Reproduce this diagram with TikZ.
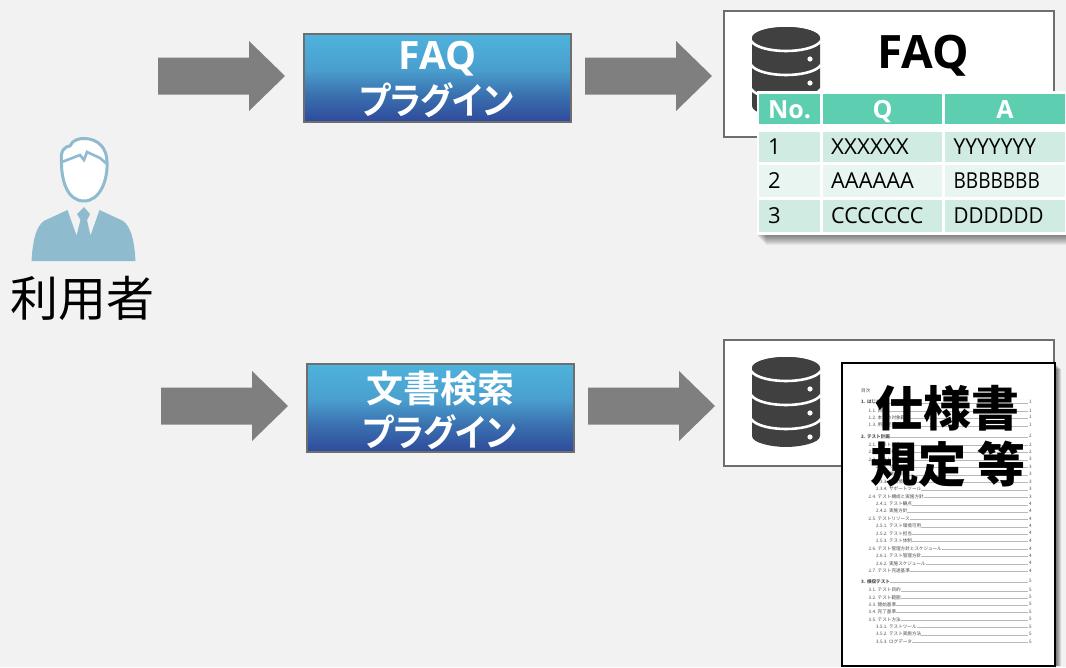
\documentclass[tikz,border=0pt]{standalone}
\usepackage{fontspec}
\setmainfont{Open Sans}
\newfontfamily\cjk{Noto Sans CJK JP}
\newfontfamily\cjkb[RawFeature=+palt]{Noto Sans CJK JP Bold}
\newfontfamily\cjkh{Noto Sans CJK JP Black}
\usetikzlibrary{calc}
\definecolor{bg}{HTML}{F2F2F2}
\definecolor{arrowgray}{HTML}{7F7F7F}
\definecolor{boxedge}{HTML}{6E6E6E}
\definecolor{dbdark}{HTML}{404040}
\definecolor{person}{HTML}{8FBBCE}
\definecolor{thead}{HTML}{5DCFB0}
\definecolor{rowa}{HTML}{D0EBE2}
\definecolor{rowb}{HTML}{E9F5F1}
\definecolor{gtop}{HTML}{4EB3DC}
\definecolor{gup}{HTML}{4A9FCF}
\definecolor{glow}{HTML}{3A6FAE}
\definecolor{gbot}{HTML}{2F4A9B}
\pgfdeclareverticalshading{plugshade}{100bp}{
  color(0bp)=(gbot);
  color(25bp)=(gbot);
  color(40bp)=(glow);
  color(55bp)=(gup);
  color(75bp)=(gtop);
  color(100bp)=(gtop)}
\tikzset{
  x=1pt,y=-1pt,
  blockarrow/.style={fill=arrowgray,draw=none},
  plugin/.style={draw=boxedge,line width=1.5pt,shading=plugshade,anchor=north west,inner sep=0pt,outer sep=0pt},
  pluginlabel/.style={text=white,align=center,inner sep=0pt},
  plugkana/.style={pluginlabel,xscale=.91,font=\cjkb\fontsize{37}{38}\selectfont},
  store/.style={draw=boxedge,line width=1.6pt,fill=white,outer sep=0pt},
  headcell/.style={fill=thead,text=white,font=\bfseries\fontsize{25}{27}\selectfont,inner sep=0pt,outer sep=0pt,text height=18pt,text depth=0pt},
  bodycell/.style={text=black,font=\fontsize{22}{24}\selectfont,inner sep=0pt,anchor=west},
  tocline/.style={draw=gray!55,line width=0.6pt},
  toctext/.style={text=black!70,font=\cjk\fontsize{4.6}{5}\selectfont,inner sep=0pt,anchor=west,fill=white},
  docttl/.style={text=black,font=\cjkh\fontsize{48}{50}\selectfont,inner sep=0pt}
}
\newcommand{\blockarr}[2]{%
  \fill[blockarrow] (#1,#2-18.5) -- (#1+91,#2-18.5) -- (#1+91,#2-35) -- (#1+127,#2) -- (#1+91,#2+35) -- (#1+91,#2+18.5) -- (#1,#2+18.5) -- cycle;}
\newcommand{\dbicon}[1]{%
  \begin{scope}[yshift=#1pt]
    \fill[dbdark] (752,38) arc[start angle=180,end angle=360,x radius=34,y radius=11]
      -- (820,106) .. controls (820,113) and (800,117) .. (786,117) .. controls (772,117) and (752,113) .. (752,106) -- cycle;
    \fill[dbdark] (752,38) arc[start angle=180,end angle=540,x radius=34,y radius=11];
    \foreach \yy in {41,65,89}{
      \draw[white,line width=2.6pt] (751,\yy) .. controls (756,\yy+7) and (772,\yy+10) .. (786,\yy+10) .. controls (800,\yy+10) and (816,\yy+7) .. (821,\yy);
    }
    \foreach \yy in {59,83,107}{ \fill[white] (810,\yy) circle[radius=2.6]; }
  \end{scope}}
\begin{document}
\begin{tikzpicture}
\useasboundingbox (0,0) rectangle (1066,667);
\fill[bg] (0,0) rectangle (1066,667);

% person
\draw[person,line width=3pt,fill=white,line join=round]
  (61.5,160) .. controls (60,150) and (66,146) .. (70,146)
  .. controls (72,140) and (80,138) .. (85,138.5)
  .. controls (98,139) and (107,148) .. (107,162)
  .. controls (108,180) and (100,201) .. (84,201)
  .. controls (68,201) and (61,182) .. (61.5,160) -- cycle;
\draw[person,line width=2.6pt,line join=miter] (62,162) -- (80,155) -- (84,160) -- (87,152) -- (100,158) -- (107,164);
\fill[person] (31.5,261) .. controls (33,235) and (38,222) .. (48,219)
  -- (67.5,210) -- (76.5,235.5) -- (80.5,220) -- (77,214) -- (84,207) -- (90,214) -- (87,220) -- (90.5,235.5) -- (99.5,210)
  -- (119,219) .. controls (129,222) and (134,235) .. (135.5,261) -- cycle;
\node[inner sep=0pt,font=\cjk\fontsize{48}{50}\selectfont] (user) at (82.5,298) {利用者};

% arrows
\blockarr{158}{76}
\blockarr{585}{76}
\blockarr{161}{406}
\blockarr{588}{406}

% plugin boxes
\node[plugin,minimum width=267pt,minimum height=88pt] (faqplug) at (304,34) {};
\node[pluginlabel,font=\bfseries\fontsize{39}{40}\selectfont] at (437.5,59) {FAQ};
\node[plugkana] at (436.5,100) {プラグイン};
\node[plugin,minimum width=267pt,minimum height=88pt] (docplug) at (307,364) {};
\node[pluginlabel,font=\cjkb\fontsize{37}{40}\selectfont] at (440,388) {文書検索};
\node[plugkana] at (439.5,432) {プラグイン};

% FAQ store
\node[store,anchor=north west,minimum width=330pt,minimum height=126pt] (faqstore) at (724,11) {};
\dbicon{0}
\node[inner sep=0pt,font=\bfseries\fontsize{46}{48}\selectfont] (faqtitle) at (923,56) {FAQ};

% table
\foreach \o in {1,...,10}{
  \fill[black,opacity=0.055] (756+\o,92+\o) rectangle (1066,235+\o);
}
\fill[white] (757,91) rectangle (1066,235);
\foreach \xa/\xb/\t in {759/820/No.,823/942/Q,945/1065/A}{
  \node[headcell,minimum width={\xb pt-\xa pt},minimum height=30pt] at ({(\xa+\xb)/2},109) {\t};
}
\foreach \ya/\yb/\c in {132/162/rowa,165/197/rowb,200/232/rowa}{
  \foreach \xa/\xb in {759/820,823/942,945/1065}{
    \fill[\c] (\xa,\ya) rectangle (\xb,\yb);
  }
}
\foreach \yy/\a/\b/\sb/\c/\sc in {147/1/XXXXXX/1.02/YYYYYYY/.955,181/2/AAAAAA/.99/BBBBBBB/.863,216/3/CCCCCCC/.975/DDDDDD/.934}{
  \node[bodycell] at (768,\yy) {\a};
  \node[bodycell,xscale=\sb] at (831,\yy) {\b};
  \node[bodycell,xscale=\sc] at (953.5,\yy) {\c};
}

% document store
\node[store,anchor=north west,minimum width=330pt,minimum height=126pt] (docstore) at (724,340) {};
\dbicon{-330}

% document page
\foreach \o in {1,2,3,4,5,6}{
  \fill[black,opacity=0.12] (842+\o,363+\o) rectangle (1055+\o,666);
}
\node[draw=black,line width=1.8pt,fill=white,anchor=north west,minimum width=213pt,minimum height=303pt,inner sep=0pt,outer sep=0pt] (page) at (842,363) {};
\node[toctext,fill=none] at (861,391) {目次};
\foreach \yy/\ind/\t/\n in {
  402.3/0/\textbf{1. はじめに}/1,
  410.7/1/1.1. 目的/1,
  417.3/1/1.2. 本書の対象範囲/1,
  425/1/1.3. 用語定義/1,
  436.3/0/\textbf{2. テスト計画}/2,
  444.7/1/2.1. テスト対象/2,
  451.7/1/2.2. テスト範囲/2,
  459.3/1/2.3. テスト環境/3,
  466.7/2/2.3.1. サーバ環境/3,
  474/2/2.3.2. 端末環境/3,
  481.7/2/2.3.3. 網環境/3,
  489/2/2.3.4. サポートツール/3,
  496.7/1/2.4. テスト構成と実施方針/3,
  504/2/2.4.1. テスト観点/4,
  511/2/2.4.2. 実施方針/4,
  518.7/1/2.5. テストリソース/4,
  526/2/2.5.1. テスト環境可用/4,
  533.3/2/2.5.2. テスト担当/4,
  540.7/2/2.5.3. テスト体制/4,
  548.7/1/2.6. テスト管理方針とスケジュール/4,
  555.7/2/2.6.1. テスト管理方針/4,
  563.3/2/2.6.2. 実施スケジュール/4,
  570.7/1/2.7. テスト完遂基準/4,
  581.3/0/\textbf{3. 検収テスト}/5,
  590/1/3.1. テスト目的/5,
  597.3/1/3.2. テスト範囲/5,
  604.3/1/3.3. 開始基準/5,
  611.7/1/3.4. 完了基準/5,
  619.3/1/3.5. テスト方法/5,
  626.7/2/3.5.1. テストツール/5,
  634/2/3.5.2. テスト実施方法/5,
  641.7/2/3.5.3. ログデータ/5}{
  \draw[tocline] ({861+\ind*7.5},\yy+1) -- (1028,\yy+1);
  \node[toctext] at ({861+\ind*7.5},\yy) {\t};
  \node[toctext] at (1029,\yy) {\n};
}
\node[docttl] (spec) at (947.5,408) {仕様書};
\node[docttl] (rule) at (948,464) {規定 等};
\end{tikzpicture}
\end{document}
